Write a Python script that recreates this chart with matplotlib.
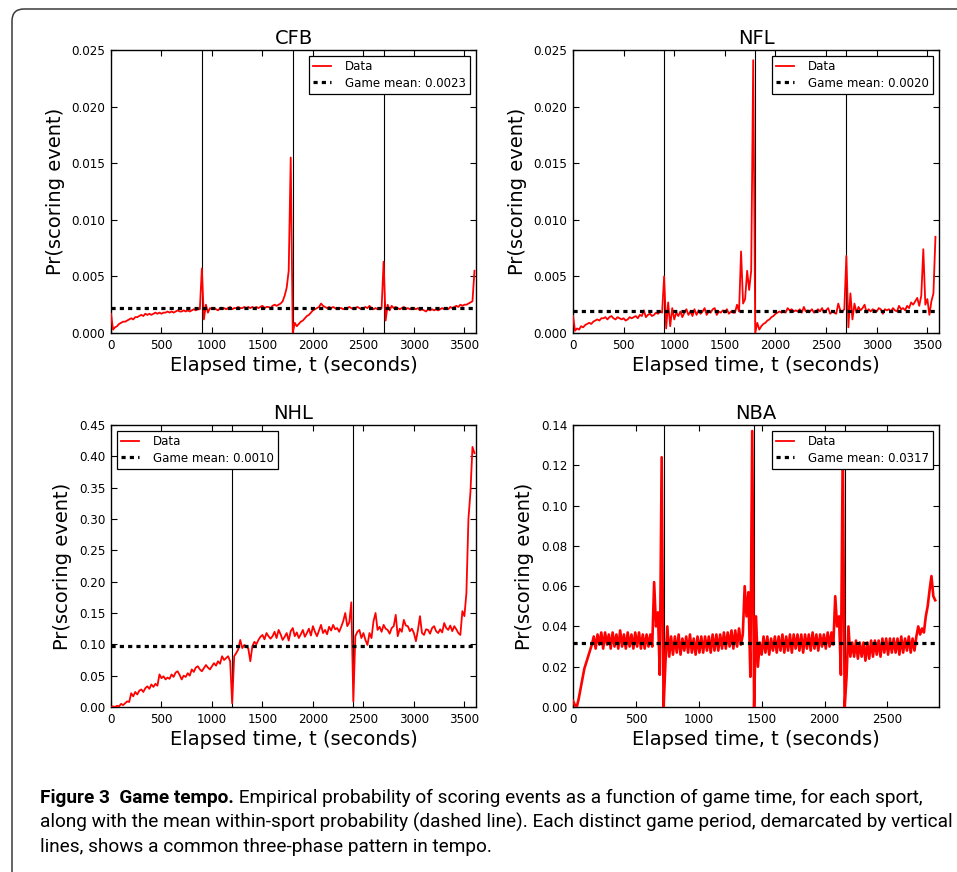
import numpy as np
import matplotlib
matplotlib.use('Agg')
import matplotlib.pyplot as plt
from matplotlib.patches import FancyBboxPatch
from matplotlib.transforms import IdentityTransform
from matplotlib import font_manager
from matplotlib.ticker import FormatStrFormatter, MultipleLocator

# ------------------------------------------------------------------ data
# Pr(scoring event), sampled every *_STEP seconds from t = 0
CFB_STEP = 20
cfb_p = [
    0.0017, 0.0003, 0.0005, 0.0006, 0.0008, 0.0009, 0.0010, 0.0010, 0.0011, 0.0012,
    0.0013, 0.0012, 0.0014, 0.0014, 0.0015, 0.0016, 0.0015, 0.0017, 0.0016, 0.0017,
    0.0016, 0.0017, 0.0018, 0.0017, 0.0018, 0.0017, 0.0018, 0.0018, 0.0019, 0.0018,
    0.0019, 0.0018, 0.0019, 0.0020, 0.0019, 0.0019, 0.0020, 0.0019, 0.0020, 0.0019,
    0.0020, 0.0021, 0.0020, 0.0021, 0.0021, 0.0057, 0.0012, 0.0025, 0.0018, 0.0022,
    0.0021, 0.0022, 0.0021, 0.0020, 0.0022, 0.0021, 0.0022, 0.0021, 0.0022, 0.0023,
    0.0021, 0.0022, 0.0022, 0.0023, 0.0022, 0.0022, 0.0023, 0.0022, 0.0023, 0.0022,
    0.0023, 0.0022, 0.0023, 0.0022, 0.0023, 0.0024, 0.0022, 0.0023, 0.0023, 0.0022,
    0.0024, 0.0025, 0.0024, 0.0025, 0.0026, 0.0028, 0.0033, 0.0040, 0.0055, 0.0155,
    0.0000, 0.0009, 0.0006, 0.0008, 0.0010, 0.0011, 0.0013, 0.0015, 0.0016, 0.0018,
    0.0020, 0.0021, 0.0022, 0.0023, 0.0026, 0.0024, 0.0023, 0.0022, 0.0023, 0.0022,
    0.0023, 0.0022, 0.0021, 0.0022, 0.0022, 0.0021, 0.0022, 0.0022, 0.0023, 0.0022,
    0.0021, 0.0022, 0.0023, 0.0022, 0.0021, 0.0022, 0.0023, 0.0022, 0.0024, 0.0022,
    0.0021, 0.0022, 0.0021, 0.0021, 0.0022, 0.0063, 0.0011, 0.0025, 0.0020, 0.0024,
    0.0022, 0.0023, 0.0022, 0.0021, 0.0022, 0.0023, 0.0021, 0.0022, 0.0021, 0.0022,
    0.0022, 0.0021, 0.0022, 0.0020, 0.0021, 0.0020, 0.0019, 0.0021, 0.0020, 0.0021,
    0.0020, 0.0021, 0.0020, 0.0021, 0.0022, 0.0021, 0.0022, 0.0021, 0.0023, 0.0022,
    0.0023, 0.0024, 0.0023, 0.0025, 0.0024, 0.0025, 0.0025, 0.0026, 0.0027, 0.0028,
    0.0055,
]

NFL_STEP = 20
nfl_p = [
    0.0015, 0.0002, 0.0004, 0.0003, 0.0006, 0.0005, 0.0007, 0.0008, 0.0009, 0.0008,
    0.0010, 0.0011, 0.0012, 0.0011, 0.0013, 0.0013, 0.0014, 0.0012, 0.0014, 0.0015,
    0.0013, 0.0012, 0.0014, 0.0013, 0.0012, 0.0013, 0.0011, 0.0012, 0.0014, 0.0013,
    0.0014, 0.0015, 0.0013, 0.0016, 0.0015, 0.0020, 0.0014, 0.0016, 0.0017, 0.0015,
    0.0016, 0.0018, 0.0017, 0.0019, 0.0018, 0.0050, 0.0004, 0.0027, 0.0006, 0.0022,
    0.0012, 0.0018, 0.0015, 0.0019, 0.0014, 0.0018, 0.0021, 0.0016, 0.0019, 0.0015,
    0.0021, 0.0016, 0.0020, 0.0017, 0.0019, 0.0022, 0.0016, 0.0019, 0.0018, 0.0021,
    0.0022, 0.0016, 0.0019, 0.0018, 0.0020, 0.0018, 0.0021, 0.0017, 0.0019, 0.0018,
    0.0018, 0.0025, 0.0019, 0.0072, 0.0026, 0.0030, 0.0055, 0.0038, 0.0055, 0.0241,
    0.0000, 0.0009, 0.0003, 0.0006, 0.0008, 0.0009, 0.0011, 0.0012, 0.0014, 0.0015,
    0.0017, 0.0018, 0.0019, 0.0018, 0.0019, 0.0018, 0.0022, 0.0020, 0.0021, 0.0019,
    0.0020, 0.0019, 0.0021, 0.0018, 0.0023, 0.0019, 0.0020, 0.0019, 0.0021, 0.0018,
    0.0019, 0.0021, 0.0019, 0.0022, 0.0018, 0.0020, 0.0022, 0.0017, 0.0019, 0.0018,
    0.0017, 0.0026, 0.0020, 0.0019, 0.0021, 0.0068, 0.0005, 0.0035, 0.0012, 0.0026,
    0.0018, 0.0023, 0.0020, 0.0022, 0.0025, 0.0018, 0.0021, 0.0019, 0.0021, 0.0020,
    0.0019, 0.0022, 0.0021, 0.0017, 0.0021, 0.0020, 0.0021, 0.0019, 0.0022, 0.0020,
    0.0019, 0.0024, 0.0021, 0.0022, 0.0020, 0.0024, 0.0022, 0.0027, 0.0025, 0.0028,
    0.0031, 0.0024, 0.0033, 0.0074, 0.0025, 0.0030, 0.0016, 0.0028, 0.0035, 0.0085,
]

NHL_STEP = 20
nhl_p = [
    0.000, 0.001, 0.000, 0.002, 0.001, 0.005, 0.003, 0.006, 0.009, 0.008,
    0.022, 0.017, 0.024, 0.020, 0.026, 0.028, 0.024, 0.030, 0.033, 0.029,
    0.036, 0.032, 0.037, 0.034, 0.052, 0.046, 0.049, 0.044, 0.047, 0.045,
    0.052, 0.048, 0.055, 0.057, 0.051, 0.044, 0.050, 0.048, 0.054, 0.050,
    0.060, 0.056, 0.063, 0.065, 0.060, 0.057, 0.062, 0.067, 0.063, 0.060,
    0.065, 0.070, 0.066, 0.073, 0.069, 0.081, 0.075, 0.078, 0.081, 0.073,
    0.006, 0.081, 0.086, 0.092, 0.107, 0.094, 0.099, 0.097, 0.093, 0.073,
    0.097, 0.104, 0.100, 0.107, 0.112, 0.115, 0.108, 0.118, 0.113, 0.109,
    0.113, 0.120, 0.110, 0.123, 0.116, 0.107, 0.112, 0.118, 0.106, 0.121,
    0.126, 0.113, 0.119, 0.110, 0.116, 0.123, 0.112, 0.118, 0.125, 0.114,
    0.129, 0.120, 0.113, 0.122, 0.131, 0.118, 0.123, 0.116, 0.128, 0.122,
    0.131, 0.124, 0.126, 0.120, 0.128, 0.137, 0.150, 0.129, 0.135, 0.167,
    0.009, 0.113, 0.120, 0.123, 0.110, 0.118, 0.107, 0.099, 0.118, 0.110,
    0.137, 0.150, 0.123, 0.128, 0.120, 0.131, 0.125, 0.123, 0.117, 0.126,
    0.129, 0.147, 0.113, 0.125, 0.120, 0.139, 0.130, 0.129, 0.121, 0.125,
    0.118, 0.105, 0.123, 0.145, 0.118, 0.115, 0.124, 0.123, 0.117, 0.126,
    0.129, 0.121, 0.118, 0.124, 0.119, 0.134, 0.126, 0.123, 0.130, 0.121,
    0.129, 0.124, 0.118, 0.115, 0.153, 0.145, 0.182, 0.300, 0.343, 0.415,
    0.405,
]

NBA_STEP = 15
nba_p = [
    0.003, 0.001, 0.000, 0.004, 0.009, 0.014, 0.019, 0.022, 0.025, 0.028,
    0.031, 0.035, 0.029, 0.036, 0.031, 0.037, 0.029, 0.037, 0.031, 0.036,
    0.029, 0.037, 0.030, 0.036, 0.029, 0.038, 0.030, 0.036, 0.029, 0.037,
    0.030, 0.036, 0.029, 0.037, 0.030, 0.037, 0.029, 0.036, 0.029, 0.036,
    0.030, 0.036, 0.030, 0.062, 0.040, 0.047, 0.016, 0.124, 0.000, 0.022,
    0.040, 0.025, 0.035, 0.026, 0.035, 0.027, 0.036, 0.026, 0.034, 0.028,
    0.035, 0.027, 0.036, 0.027, 0.034, 0.026, 0.035, 0.027, 0.035, 0.027,
    0.035, 0.028, 0.035, 0.027, 0.036, 0.028, 0.036, 0.028, 0.036, 0.029,
    0.037, 0.029, 0.037, 0.030, 0.038, 0.029, 0.038, 0.030, 0.039, 0.031,
    0.036, 0.060, 0.045, 0.057, 0.015, 0.137, 0.000, 0.045, 0.020, 0.032,
    0.026, 0.035, 0.027, 0.035, 0.026, 0.034, 0.028, 0.035, 0.027, 0.035,
    0.028, 0.036, 0.027, 0.035, 0.028, 0.036, 0.027, 0.036, 0.029, 0.036,
    0.028, 0.036, 0.027, 0.036, 0.029, 0.036, 0.028, 0.037, 0.029, 0.036,
    0.028, 0.036, 0.030, 0.036, 0.029, 0.037, 0.030, 0.037, 0.031, 0.055,
    0.040, 0.045, 0.016, 0.130, 0.000, 0.015, 0.040, 0.025, 0.032, 0.025,
    0.033, 0.024, 0.032, 0.025, 0.032, 0.023, 0.032, 0.024, 0.033, 0.025,
    0.033, 0.026, 0.033, 0.025, 0.034, 0.027, 0.034, 0.026, 0.034, 0.027,
    0.034, 0.027, 0.034, 0.026, 0.035, 0.027, 0.034, 0.028, 0.035, 0.027,
    0.034, 0.028, 0.035, 0.040, 0.036, 0.039, 0.037, 0.045, 0.050, 0.058,
    0.065, 0.055, 0.053,
]

sports = ['CFB', 'NFL', 'NHL', 'NBA']
series = [cfb_p, nfl_p, nhl_p, nba_p]
steps = [CFB_STEP, NFL_STEP, NHL_STEP, NBA_STEP]
mean_levels = [0.0022, 0.0019, 0.098, 0.0317]          # where the dashed line sits
mean_labels = ['0.0023', '0.0020', '0.0010', '0.0317']  # text shown in legend
period_bounds = [[900, 1800, 2700], [900, 1800, 2700], [1200, 2400], [720, 1440, 2160]]
x_max = [3615, 3615, 3615, 2910]
y_max = [0.025, 0.025, 0.45, 0.14]
y_step = [0.005, 0.005, 0.05, 0.02]
y_fmt = ['%.3f', '%.3f', '%.2f', '%.2f']
legend_loc = ['upper right', 'upper right', 'upper left', 'upper right']
data_lw = [1.3, 1.3, 1.3, 1.9]

caption_bold = 'Figure 3  Game tempo.'
caption_line1 = ' Empirical probability of scoring events as a function of game time, for each sport,'
caption_line2 = 'along with the mean within-sport probability (dashed line). Each distinct game period, demarcated by vertical'
caption_line3 = 'lines, shows a common three-phase pattern in tempo.'

# ------------------------------------------------------------------ layout
W, H, DPI = 957, 872, 100
plt.rcParams['font.family'] = ['DejaVu Sans']
fig = plt.figure(figsize=(W / DPI, H / DPI), dpi=DPI)
fig.patch.set_facecolor('white')

boxes = [(111, 50, 476, 333), (573, 50, 939, 333),
         (111, 425, 476, 707), (573, 425, 939, 707)]


def ax_at(l, t, r, b):
    return fig.add_axes([l / W, 1 - b / H, (r - l) / W, (b - t) / H])


for i, name in enumerate(sports):
    ax = ax_at(*boxes[i])
    p = np.array(series[i])
    t = np.arange(len(p)) * steps[i]
    ax.plot(t, p, color='#ff0000', lw=data_lw[i], label='Data', zorder=3)
    ax.axhline(mean_levels[i], color='black', lw=2.3, linestyle=(0, (1.3, 1.3)),
               label='Game mean: ' + mean_labels[i], zorder=4)
    for v in period_bounds[i]:
        ax.axvline(v, color='black', lw=0.8, zorder=2)
    ax.set_xlim(0, x_max[i])
    ax.set_ylim(0, y_max[i])
    ax.xaxis.set_major_locator(MultipleLocator(500))
    ax.yaxis.set_major_locator(MultipleLocator(y_step[i]))
    ax.yaxis.set_major_formatter(FormatStrFormatter(y_fmt[i]))
    ax.tick_params(direction='in', top=True, right=True, length=4, width=0.8,
                   labelsize=8.6, pad=4)
    for s in ax.spines.values():
        s.set_linewidth(1.0)
    ax.set_title(name, fontsize=14, pad=4)
    ax.set_xlabel('Elapsed time, t (seconds)', fontsize=14, labelpad=3)
    ax.set_ylabel('Pr(scoring event)', fontsize=14, labelpad=5)
    leg = ax.legend(loc=legend_loc[i], fontsize=8.5, fancybox=False, framealpha=1,
                    edgecolor='black', handlelength=1.5, handletextpad=1.2,
                    borderpad=0.35, labelspacing=0.3, borderaxespad=0.5)
    leg.get_frame().set_linewidth(0.9)
    leg.get_lines()[0].set_linewidth(1.3)
    leg.set_zorder(6)

# outer rounded frame (extends beyond right and bottom edges)
frame = FancyBboxPatch((12, -60), W + 60 - 12, (H - 9) + 60,
                       boxstyle='round,pad=0,rounding_size=12',
                       transform=IdentityTransform(), fill=False,
                       ec='#3a3a3a', lw=1.1)
fig.add_artist(frame)

# ------------------------------------------------------------------ caption
names = {f.name for f in font_manager.fontManager.ttflist}
cap_family = 'DejaVu Sans'
for cand in ['Liberation Sans Narrow', 'Roboto', 'Lato', 'Noto Sans', 'Open Sans']:
    if cand in names:
        cap_family = cand
        break

renderer = fig.canvas.get_renderer()
probe = fig.text(0, 0, caption_line2, fontsize=10, family=cap_family)
w10 = probe.get_window_extent(renderer).width
probe.remove()
cap_size = 10 * 915.0 / w10

x0 = 40
baselines = [803, 828, 852]
tb = fig.text(x0 / W, 1 - baselines[0] / H, caption_bold, fontsize=cap_size,
              family=cap_family, weight='bold', va='baseline', ha='left')
wb = tb.get_window_extent(renderer).width
fig.text((x0 + wb) / W, 1 - baselines[0] / H, caption_line1, fontsize=cap_size,
         family=cap_family, va='baseline', ha='left')
fig.text(x0 / W, 1 - baselines[1] / H, caption_line2, fontsize=cap_size,
         family=cap_family, va='baseline', ha='left')
fig.text(x0 / W, 1 - baselines[2] / H, caption_line3, fontsize=cap_size,
         family=cap_family, va='baseline', ha='left')

fig.savefig('out.png', dpi=DPI, facecolor='white')
